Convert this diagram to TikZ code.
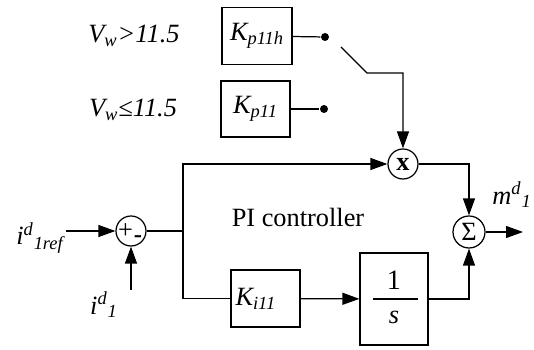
\documentclass[tikz,border=0pt]{standalone}
\usepackage{fontspec}
\setmainfont{Liberation Serif}
\usetikzlibrary{arrows.meta,positioning}

\begin{document}
\begin{tikzpicture}[
    x=0.02cm, y=-0.02cm,
    line width=0.7pt,
    blk/.style={rectangle, draw, minimum width=1.38cm, minimum height=1.14cm, font=\rmfamily\fontsize{15}{18}\selectfont\itshape},
    sumnode/.style={circle, draw, minimum size=0.6cm, inner sep=0pt, font=\rmfamily\fontsize{15}{18}\selectfont},
    contact/.style={circle, fill, inner sep=0pt, minimum size=0.16cm},
    lbl/.style={font=\rmfamily\fontsize{15}{18}\selectfont\itshape},
    arrow/.style={-{Triangle[length=0.34cm,width=0.24cm]}}
]
    \useasboundingbox (0,0) rectangle (534,350);

    % gain blocks
    \node[blk, minimum width=1.4cm] (kph) at (257,36) {K\textsubscript{p11h}};
    \node[blk, minimum height=1.12cm] (kp) at (255.5,109) {K\textsubscript{p11}};
    \node[blk, text width=1.2cm, align=left, inner xsep=0.09cm] (ki) at (265.5,298.5) {K\textsubscript{i11}};
    \node[blk, minimum width=1.36cm, minimum height=1.84cm] (integ) at (394,299) {};
    \node[font=\rmfamily\fontsize{16}{18}\selectfont] (num) at (394,280) {1};
    \node[lbl] (den) at (394,317) {s};
    \draw ([xshift=-0.42cm]integ.center) -- ([xshift=0.48cm]integ.center);

    % switching conditions
    \node[lbl] (vhigh) at (134,36) {V\textsubscript{w}>11.5};
    \node[lbl] (vlow) at (133,110) {V\textsubscript{w}≤11.5};

    % switch
    \node[contact] (dh) at (325,37) {};
    \node[contact] (dl) at (324,109) {};
    \coordinate (swa) at (341,47);
    \coordinate (swb) at (367,73);

    % junctions
    \node[sumnode] (sumin) at (131,231) {};
    \node[font=\rmfamily\fontsize{15}{15}\selectfont] (plus) at (125.5,231) {+};
    \node[font=\rmfamily\fontsize{14}{14}\selectfont\bfseries] (minus) at (138,239) {-};
    \node[sumnode] (mult) at (403,164) {\textbf{x}};
    \node[sumnode, minimum size=0.64cm] (sigma) at (469,232) {Σ};

    % signals
    \coordinate (iref) at (66,231);
    \coordinate (imeas) at (131,290);
    \coordinate (br) at (183,231);
    \coordinate (out) at (523,232);

    \draw[arrow] (iref) -- (sumin);
    \draw[arrow] (imeas) -- (sumin);
    \draw (sumin) -- (br);
    \draw[arrow] (br) |- (mult);
    \draw (br) |- (ki);
    \draw[arrow] (ki) -- (integ);
    \draw[arrow] (integ) -| (sigma);
    \draw[arrow] (mult) -| (sigma);
    \draw[arrow] (sigma) -- (out);
    \draw (kph) -- (dh);
    \draw (kp) -- (dl);
    \draw[arrow] (swa) -- (swb) -| (mult);

    % labels
    \node[lbl] (ireflbl) at (40,238) {i\textsuperscript{d}\textsubscript{1ref}};
    \node[lbl] (imeaslbl) at (104,305) {i\textsuperscript{d}\textsubscript{1}};
    \node[lbl] (mlbl) at (512,195) {m\textsuperscript{d}\textsubscript{1}};
    \node[font=\rmfamily\fontsize{15}{18}\selectfont] (pi) at (298,217) {PI controller};

\end{tikzpicture}
\end{document}
